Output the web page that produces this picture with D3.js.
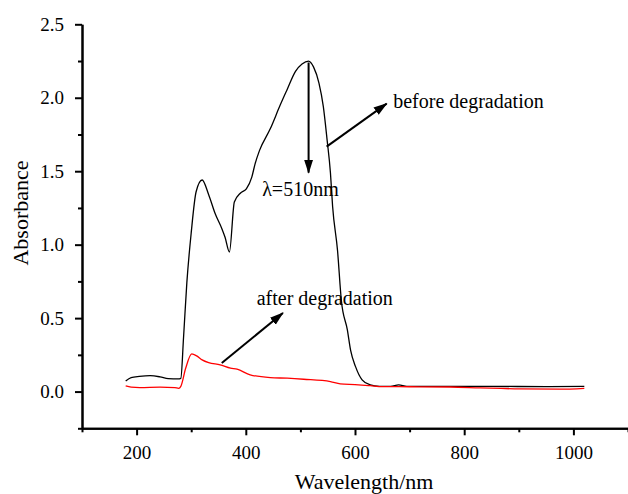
<!DOCTYPE html>
<html>
<head>
<meta charset="utf-8">
<script src="https://cdn.jsdelivr.net/npm/d3@7"></script>
<style>
  body { margin: 0; background: #fff; }
  text { font-family: "Liberation Serif", "Times New Roman", serif; fill: #000; }
</style>
</head>
<body>
<div id="chart"></div>
<script>
// spectrum before degradation (wavelength nm, absorbance)
var beforeWl  = [180, 190, 205, 225, 243, 258, 276, 281, 286, 292, 300, 309, 320, 332, 344, 356, 362, 370,
                 379, 390, 401, 411, 417, 425, 445, 463, 475, 491, 503, 515, 524, 534, 542, 549, 555, 559,
                 568, 575, 586, 592, 601, 613, 628, 645, 665, 680, 695, 750, 850, 950, 1020];
var beforeAbs = [0.072, 0.095, 0.103, 0.108, 0.100, 0.088, 0.086, 0.090, 0.37, 0.74, 1.08, 1.36, 1.44, 1.34, 1.21, 1.11, 1.05, 0.95,
                 1.29, 1.35, 1.38, 1.46, 1.55, 1.64, 1.79, 1.95, 2.05, 2.18, 2.23, 2.25, 2.21, 2.10, 1.94, 1.71, 1.49, 1.26,
                 0.96, 0.62, 0.42, 0.28, 0.17, 0.08, 0.045, 0.036, 0.035, 0.045, 0.036, 0.035, 0.035, 0.034, 0.035];

// spectrum after degradation
var afterWl  = [180, 190, 206, 243, 270, 277, 281, 290, 301, 310, 320, 332, 353, 372, 384, 408, 445, 476,
                506, 555, 573, 600, 628, 650, 700, 774, 829, 902, 975, 1020];
var afterAbs = [0.038, 0.030, 0.027, 0.030, 0.027, 0.022, 0.035, 0.16, 0.256, 0.243, 0.216, 0.197, 0.182, 0.159, 0.152, 0.114, 0.095, 0.091,
                0.084, 0.068, 0.052, 0.047, 0.040, 0.034, 0.033, 0.031, 0.025, 0.018, 0.016, 0.022];

var xMajor = [200, 400, 600, 800, 1000];
var xMinor = [100, 300, 500, 700, 900, 1100];
var yMajor = [0.0, 0.5, 1.0, 1.5, 2.0, 2.5];
var yMinor = [-0.25, 0.25, 0.75, 1.25, 1.75, 2.25];

// arrows: [x1, y1, x2, y2] in data units
var arrows = [
    [515, 2.24, 515, 1.49],
    [548, 1.667, 658, 1.96],
    [356, 0.195, 468, 0.535]
];
var labels = ["\u03bb=510nm", "before degradation", "after degradation"];
var labelX = [430, 670, 420];
var labelY = [1.33, 1.93, 0.59];

var width = 628,
    height = 494;

var svg = d3.select("#chart").append("svg")
    .attr("width", width)
    .attr("height", height);

var x = d3.scaleLinear().domain([100, 1100]).range([82, 628]);
var y = d3.scaleLinear().domain([-0.25, 2.5]).range([428.3, 24.3]);

// arrow head
svg.append("defs").append("marker")
    .attr("id", "head")
    .attr("markerUnits", "userSpaceOnUse")
    .attr("viewBox", "0 -5 14 10")
    .attr("refX", 13)
    .attr("refY", 0)
    .attr("markerWidth", 14)
    .attr("markerHeight", 10)
    .attr("orient", "auto")
    .append("path")
    .attr("d", "M0,-4.5L14,0L0,4.5Z")
    .attr("fill", "#000");

// minor ticks first, then major axes on top
var xMinorAxis = d3.axisBottom(x).tickValues(xMinor).tickSize(4).tickSizeOuter(0).tickFormat("");
var yMinorAxis = d3.axisLeft(y).tickValues(yMinor).tickSize(4).tickSizeOuter(0).tickFormat("");

svg.append("g").attr("transform", "translate(0," + y(-0.25) + ")").call(xMinorAxis);
svg.append("g").attr("transform", "translate(" + x(100) + ",0)").call(yMinorAxis);

var xAxis = d3.axisBottom(x).tickValues(xMajor).tickSize(7).tickSizeOuter(0).tickPadding(10.5)
    .tickFormat(d3.format("d"));
var yAxis = d3.axisLeft(y).tickValues(yMajor).tickSize(7).tickSizeOuter(0).tickPadding(11)
    .tickFormat(d3.format(".1f"));

svg.append("g").attr("class", "x axis").attr("transform", "translate(0," + y(-0.25) + ")").call(xAxis);
svg.append("g").attr("class", "y axis").attr("transform", "translate(" + x(100) + ",0)").call(yAxis);

svg.selectAll(".domain").attr("stroke", "#000").attr("stroke-width", 2);
svg.selectAll(".tick line").attr("stroke", "#000").attr("stroke-width", 2);
svg.selectAll(".tick text")
    .style("font-family", "'Liberation Serif', 'Times New Roman', serif")
    .style("font-size", "19px")
    .attr("fill", "#000");

// axis titles
svg.append("text")
    .attr("x", 364)
    .attr("y", 489)
    .attr("text-anchor", "middle")
    .style("font-size", "22px")
    .text("Wavelength/nm");

svg.append("text")
    .attr("transform", "translate(28," + 213 + ") rotate(-90)")
    .attr("text-anchor", "middle")
    .style("font-size", "22px")
    .text("Absorbance");

// curves
var line = d3.line()
    .x(function (d) { return x(d[0]); })
    .y(function (d) { return y(d[1]); })
    .curve(d3.curveMonotoneX);

var before = beforeWl.map(function (w, i) { return [w, beforeAbs[i]]; });
var after = afterWl.map(function (w, i) { return [w, afterAbs[i]]; });

svg.append("path")
    .datum(before)
    .attr("d", line)
    .attr("fill", "none")
    .attr("stroke", "#000")
    .attr("stroke-width", 1.3);

svg.append("path")
    .datum(after)
    .attr("d", line)
    .attr("fill", "none")
    .attr("stroke", "#ff0000")
    .attr("stroke-width", 1.3);

// annotation arrows
svg.selectAll(".arrow")
    .data(arrows)
    .enter()
    .append("line")
    .attr("class", "arrow")
    .attr("x1", function (d) { return x(d[0]); })
    .attr("y1", function (d) { return y(d[1]); })
    .attr("x2", function (d) { return x(d[2]); })
    .attr("y2", function (d) { return y(d[3]); })
    .attr("stroke", "#000")
    .attr("stroke-width", 2)
    .attr("marker-end", "url(#head)");

svg.selectAll(".note")
    .data(labels)
    .enter()
    .append("text")
    .attr("class", "note")
    .attr("x", function (d, i) { return x(labelX[i]); })
    .attr("y", function (d, i) { return y(labelY[i]); })
    .style("font-size", "20px")
    .text(function (d) { return d; });
</script>
</body>
</html>
